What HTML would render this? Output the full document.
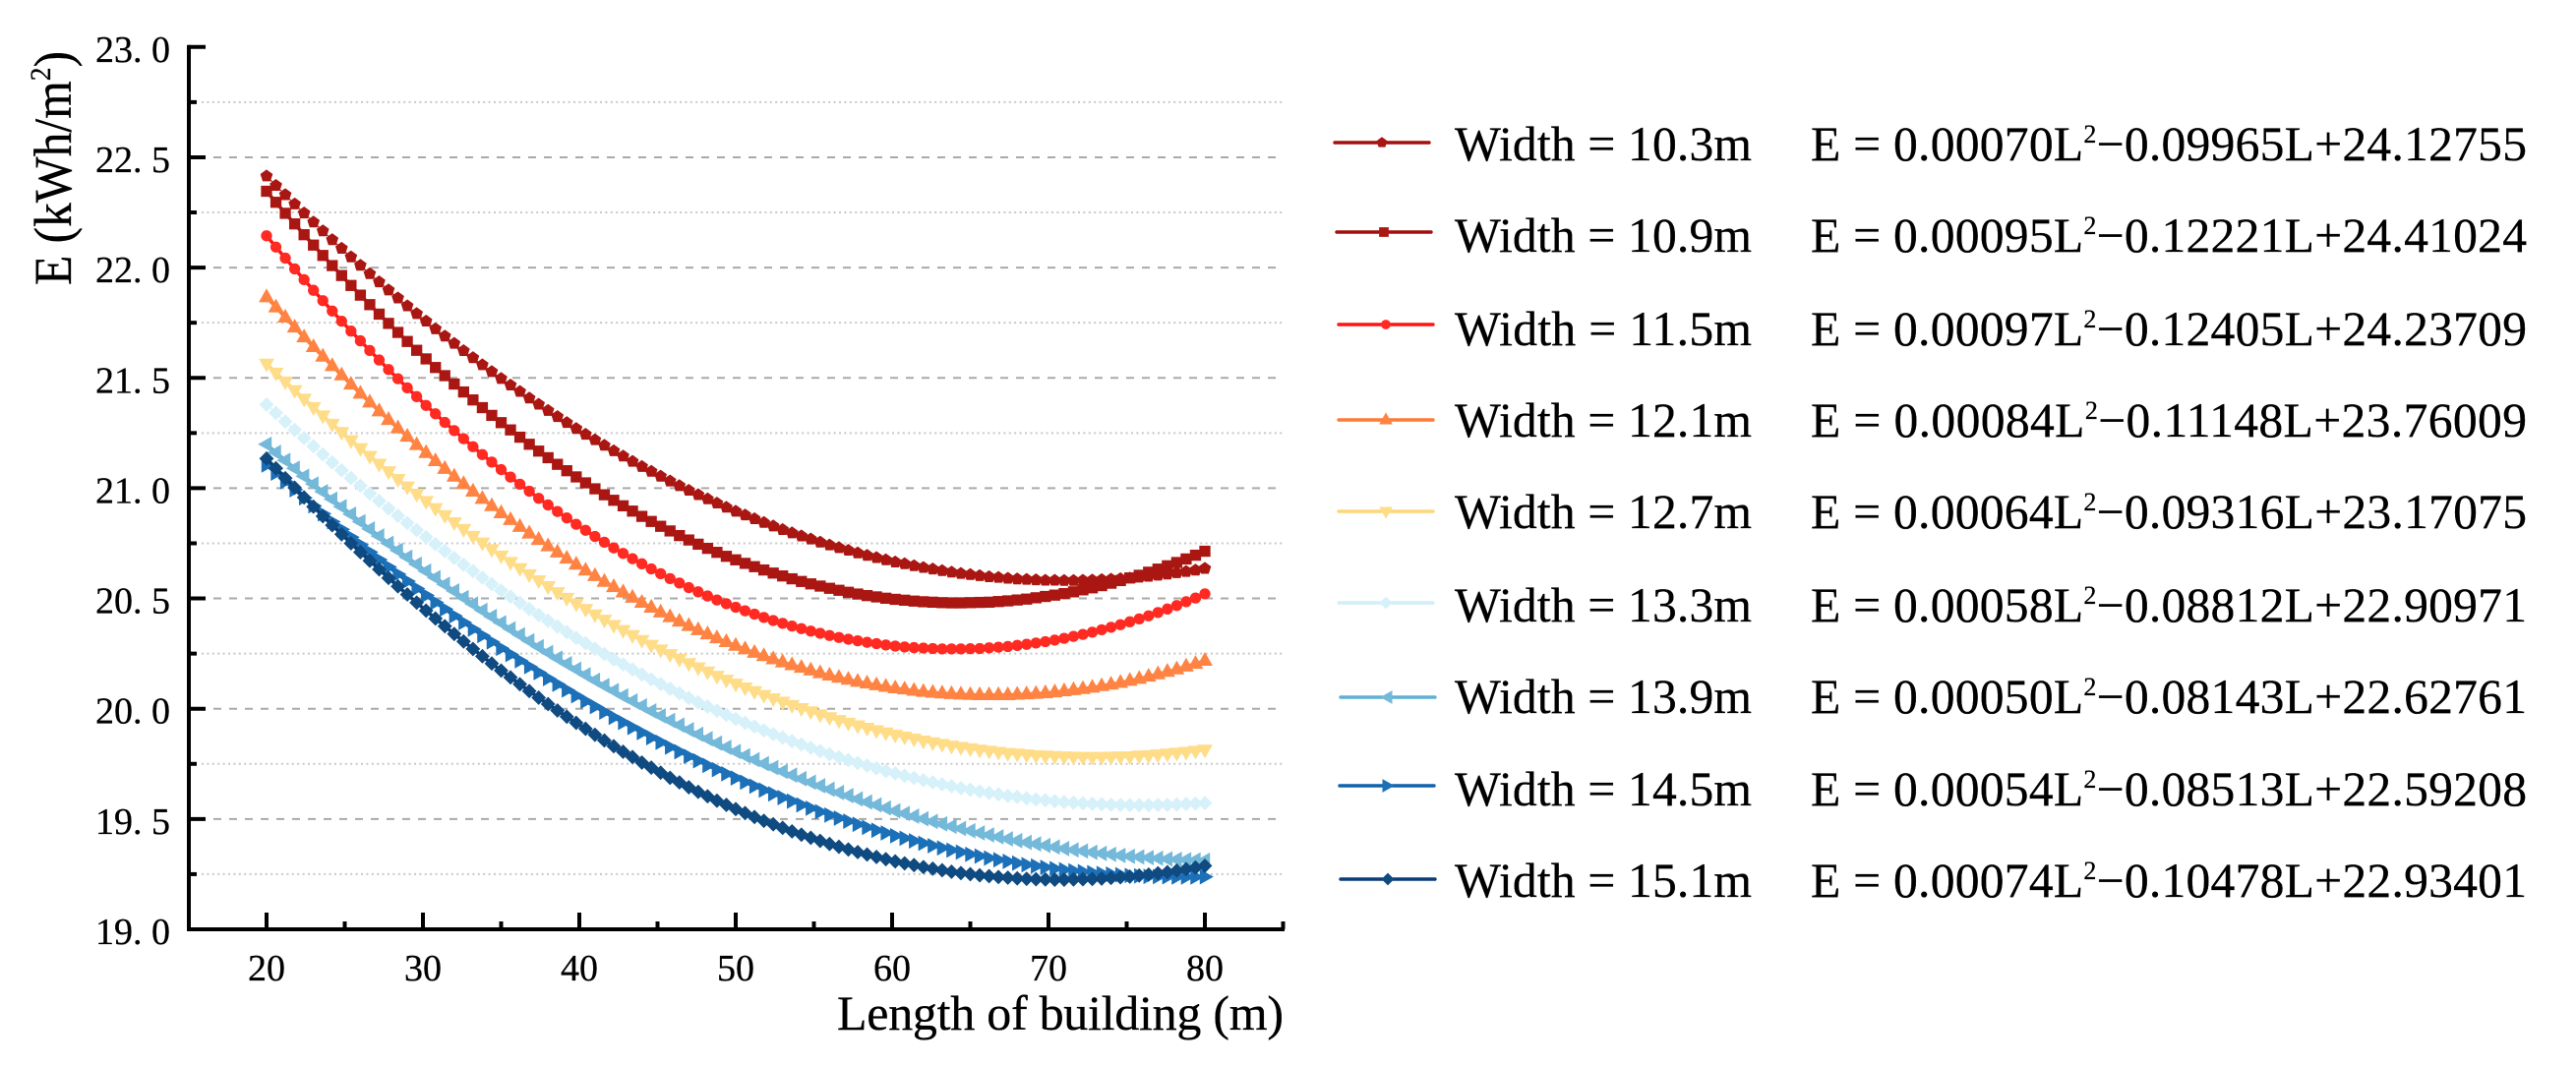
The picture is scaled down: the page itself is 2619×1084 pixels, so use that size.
<!DOCTYPE html>
<html lang="en">
<head>
<meta charset="utf-8">
<title>Energy vs building length</title>
<style>
html,body{margin:0;padding:0;background:#fff;width:2619px;height:1084px;overflow:hidden}
svg{display:block}
text{font-family:"Liberation Serif","Noto Serif CJK SC",serif;fill:#000;stroke:#000;stroke-width:.3px}
</style>
</head>
<body>
<svg id="chart" xmlns="http://www.w3.org/2000/svg" width="2619" height="1084" viewBox="0 0 2619 1084"></svg>
<script>
const lengths = [20,20.6,21.2,21.8,22.4,23,23.6,24.2,24.8,25.4,26,26.6,27.2,27.8,28.4,29,29.6,30.2,30.8,31.4,32,32.6,33.2,33.8,34.4,35,35.6,36.2,36.8,37.4,38,38.6,39.2,39.8,40.4,41,41.6,42.2,42.8,43.4,44,44.6,45.2,45.8,46.4,47,47.6,48.2,48.8,49.4,50,50.6,51.2,51.8,52.4,53,53.6,54.2,54.8,55.4,56,56.6,57.2,57.8,58.4,59,59.6,60.2,60.8,61.4,62,62.6,63.2,63.8,64.4,65,65.6,66.2,66.8,67.4,68,68.6,69.2,69.8,70.4,71,71.6,72.2,72.8,73.4,74,74.6,75.2,75.8,76.4,77,77.6,78.2,78.8,79.4,80];
const width103 = [22.415,22.372,22.330,22.288,22.247,22.206,22.166,22.126,22.087,22.048,22.010,21.972,21.935,21.898,21.862,21.826,21.791,21.757,21.722,21.689,21.656,21.623,21.591,21.559,21.528,21.497,21.467,21.438,21.408,21.380,21.352,21.324,21.297,21.270,21.244,21.219,21.194,21.169,21.145,21.121,21.098,21.076,21.054,21.032,21.011,20.990,20.970,20.951,20.932,20.913,20.895,20.878,20.861,20.844,20.828,20.812,20.797,20.783,20.769,20.755,20.742,20.730,20.718,20.706,20.695,20.685,20.675,20.665,20.657,20.648,20.640,20.633,20.626,20.619,20.613,20.608,20.603,20.598,20.595,20.591,20.588,20.586,20.584,20.582,20.582,20.581,20.581,20.582,20.583,20.585,20.587,20.589,20.592,20.596,20.600,20.605,20.610,20.616,20.622,20.628,20.636];
const width109 = [22.346,22.296,22.246,22.198,22.149,22.102,22.055,22.009,21.964,21.919,21.875,21.832,21.789,21.747,21.706,21.665,21.625,21.586,21.547,21.510,21.472,21.436,21.400,21.365,21.330,21.297,21.264,21.231,21.199,21.168,21.138,21.108,21.079,21.051,21.024,20.997,20.970,20.945,20.920,20.896,20.872,20.849,20.827,20.806,20.785,20.765,20.746,20.727,20.709,20.691,20.675,20.659,20.644,20.629,20.615,20.602,20.589,20.577,20.566,20.556,20.546,20.537,20.528,20.520,20.513,20.507,20.501,20.496,20.492,20.488,20.485,20.483,20.481,20.480,20.480,20.481,20.482,20.483,20.486,20.489,20.493,20.497,20.503,20.509,20.515,20.522,20.530,20.539,20.548,20.558,20.569,20.581,20.593,20.605,20.619,20.633,20.648,20.663,20.679,20.696,20.714];
const width115 = [22.144,22.093,22.043,21.994,21.945,21.897,21.850,21.803,21.757,21.712,21.668,21.624,21.581,21.538,21.496,21.455,21.415,21.375,21.337,21.298,21.261,21.224,21.188,21.152,21.118,21.084,21.050,21.018,20.986,20.954,20.924,20.894,20.865,20.836,20.809,20.781,20.755,20.729,20.704,20.680,20.657,20.634,20.612,20.590,20.570,20.549,20.530,20.511,20.493,20.476,20.460,20.444,20.429,20.414,20.400,20.387,20.375,20.363,20.352,20.342,20.332,20.323,20.315,20.308,20.301,20.295,20.289,20.284,20.280,20.277,20.275,20.273,20.271,20.271,20.271,20.272,20.273,20.276,20.279,20.282,20.287,20.292,20.298,20.304,20.311,20.319,20.328,20.337,20.347,20.358,20.369,20.381,20.394,20.407,20.421,20.436,20.452,20.468,20.485,20.502,20.521];
const width121 = [21.866,21.820,21.774,21.729,21.684,21.640,21.597,21.554,21.512,21.470,21.429,21.389,21.349,21.310,21.272,21.234,21.196,21.160,21.123,21.088,21.053,21.019,20.985,20.952,20.919,20.887,20.856,20.825,20.795,20.766,20.737,20.709,20.681,20.654,20.627,20.602,20.576,20.552,20.528,20.504,20.481,20.459,20.437,20.416,20.396,20.376,20.357,20.338,20.320,20.303,20.286,20.270,20.254,20.239,20.225,20.211,20.198,20.186,20.174,20.162,20.151,20.141,20.132,20.123,20.115,20.107,20.100,20.093,20.088,20.082,20.077,20.073,20.070,20.067,20.065,20.063,20.062,20.062,20.062,20.062,20.064,20.066,20.068,20.071,20.075,20.080,20.085,20.090,20.096,20.103,20.110,20.118,20.127,20.136,20.146,20.157,20.168,20.179,20.192,20.204,20.218];
const width127 = [21.564,21.523,21.483,21.444,21.405,21.367,21.329,21.291,21.254,21.217,21.181,21.146,21.110,21.076,21.041,21.007,20.974,20.941,20.909,20.877,20.845,20.814,20.783,20.753,20.723,20.694,20.665,20.637,20.609,20.582,20.555,20.528,20.502,20.477,20.452,20.427,20.403,20.379,20.356,20.333,20.311,20.289,20.268,20.247,20.226,20.206,20.187,20.168,20.149,20.131,20.113,20.096,20.079,20.062,20.047,20.031,20.016,20.002,19.988,19.974,19.961,19.948,19.936,19.924,19.913,19.902,19.892,19.882,19.873,19.864,19.855,19.847,19.840,19.832,19.826,19.820,19.814,19.809,19.804,19.799,19.796,19.792,19.789,19.787,19.785,19.783,19.782,19.781,19.781,19.781,19.782,19.783,19.784,19.787,19.789,19.792,19.796,19.800,19.804,19.809,19.814];
const width133 = [21.379,21.341,21.302,21.264,21.227,21.190,21.153,21.117,21.081,21.046,21.011,20.976,20.942,20.908,20.875,20.842,20.810,20.778,20.746,20.715,20.684,20.653,20.624,20.594,20.565,20.536,20.508,20.480,20.452,20.425,20.399,20.373,20.347,20.321,20.297,20.272,20.248,20.224,20.201,20.178,20.155,20.133,20.112,20.091,20.070,20.049,20.029,20.010,19.991,19.972,19.954,19.936,19.919,19.902,19.885,19.869,19.853,19.838,19.823,19.808,19.794,19.780,19.767,19.754,19.742,19.730,19.718,19.707,19.696,19.686,19.676,19.666,19.657,19.649,19.640,19.633,19.625,19.618,19.612,19.605,19.600,19.594,19.589,19.585,19.581,19.577,19.574,19.571,19.569,19.567,19.565,19.564,19.563,19.563,19.563,19.564,19.564,19.566,19.568,19.570,19.572];
const width139 = [21.199,21.162,21.126,21.090,21.054,21.019,20.984,20.950,20.916,20.882,20.848,20.815,20.783,20.750,20.718,20.687,20.655,20.624,20.594,20.564,20.534,20.504,20.475,20.446,20.418,20.390,20.362,20.335,20.308,20.281,20.255,20.229,20.204,20.179,20.154,20.129,20.105,20.082,20.058,20.035,20.013,19.990,19.968,19.947,19.926,19.905,19.884,19.864,19.844,19.825,19.806,19.787,19.769,19.751,19.733,19.716,19.699,19.683,19.667,19.651,19.635,19.620,19.606,19.591,19.577,19.564,19.550,19.537,19.525,19.513,19.501,19.489,19.478,19.467,19.457,19.447,19.437,19.428,19.419,19.410,19.402,19.394,19.387,19.380,19.373,19.366,19.360,19.355,19.349,19.344,19.340,19.335,19.331,19.328,19.325,19.322,19.319,19.317,19.315,19.314,19.313];
const width145 = [21.105,21.068,21.030,20.993,20.956,20.920,20.884,20.848,20.813,20.778,20.744,20.710,20.676,20.643,20.610,20.578,20.545,20.514,20.482,20.452,20.421,20.391,20.361,20.332,20.303,20.274,20.246,20.218,20.191,20.164,20.137,20.111,20.085,20.059,20.034,20.010,19.985,19.961,19.938,19.915,19.892,19.869,19.848,19.826,19.805,19.784,19.764,19.743,19.724,19.705,19.686,19.667,19.649,19.631,19.614,19.597,19.581,19.564,19.549,19.533,19.518,19.504,19.490,19.476,19.462,19.449,19.437,19.424,19.413,19.401,19.390,19.379,19.369,19.359,19.350,19.340,19.332,19.323,19.315,19.308,19.300,19.293,19.287,19.281,19.275,19.270,19.265,19.261,19.257,19.253,19.250,19.247,19.244,19.242,19.240,19.239,19.238,19.237,19.237,19.237,19.238];
const width151 = [21.134,21.090,21.045,21.002,20.958,20.916,20.873,20.832,20.791,20.750,20.710,20.671,20.632,20.593,20.555,20.518,20.481,20.445,20.409,20.374,20.339,20.305,20.271,20.238,20.205,20.173,20.142,20.111,20.080,20.050,20.021,19.992,19.964,19.936,19.909,19.882,19.856,19.830,19.805,19.781,19.756,19.733,19.710,19.687,19.666,19.644,19.623,19.603,19.583,19.564,19.545,19.527,19.509,19.492,19.476,19.460,19.444,19.429,19.415,19.401,19.387,19.374,19.362,19.350,19.339,19.328,19.318,19.308,19.299,19.291,19.282,19.275,19.268,19.261,19.255,19.250,19.245,19.241,19.237,19.234,19.231,19.229,19.227,19.226,19.225,19.225,19.226,19.227,19.228,19.230,19.233,19.236,19.239,19.244,19.248,19.254,19.259,19.266,19.273,19.280,19.288];
const seriesLabels = ["Width = 10.3m","Width = 10.9m","Width = 11.5m","Width = 12.1m","Width = 12.7m","Width = 13.3m","Width = 13.9m","Width = 14.5m","Width = 15.1m"];
const coefA = ["0.00070","0.00095","0.00097","0.00084","0.00064","0.00058","0.00050","0.00054","0.00074"];
const coefB = ["0.09965","0.12221","0.12405","0.11148","0.09316","0.08812","0.08143","0.08513","0.10478"];
const coefC = ["24.12755","24.41024","24.23709","23.76009","23.17075","22.90971","22.62761","22.59208","22.93401"];
const yMajorTicks = [19,19.5,20,20.5,21,21.5,22,22.5,23];
const yMinorTicks = [19.25,19.75,20.25,20.75,21.25,21.75,22.25,22.75];
const yTickLabels = ["19. 0","19. 5","20. 0","20. 5","21. 0","21. 5","22. 0","22. 5","23. 0"];
const xMajorTicks = [20,30,40,50,60,70,80];
const xMinorTicks = [25,35,45,55,65,75,85];

const allValues = [width103,width109,width115,width121,width127,width133,width139,width145,width151];
const lineColors = ["#a30f0f","#a30f0f","#ff1414","#ff7a35","#ffd677","#d0eff8","#5fb0d8","#0f62ae","#0c3c78"];
const markerColors = ["#aa1713","#aa1713","#ff2a22","#ff8444","#ffdc88","#d6f1f9","#74b9da","#1c70b8","#0f4a80"];
const plotLineWidths = [1,3.5,3.5,3.5,3.5,1,3.5,3.5,3.5];
const markerShapes = ["pentagon","square","circle","up","down","diamond","left","right","diamond"];
const legendLineY = [145,236,330,427,520,613,709,799,894];
const legendLineX = [1357,1359,1361,1361,1361,1361,1363,1362,1363];
const legendTextY = [163,256,351,444,537,632,725,819,912];

const NS = "http://www.w3.org/2000/svg";
const svg = document.getElementById("chart");
function xPx(v){ return 191.5 + (v - 15) * 15.9; }
function yPx(v){ return 945 - (v - 19) * 224.3; }
function mk(tag, attrs, parent, text){
  const e = document.createElementNS(NS, tag);
  for (const k in attrs) e.setAttribute(k, attrs[k]);
  if (text !== undefined) e.textContent = text;
  (parent || svg).appendChild(e);
  return e;
}
function shapePoints(s, x, y, r){
  let p;
  if (s === "pentagon") p = [[0,-1],[.95,-.31],[.59,.81],[-.59,.81],[-.95,-.31]];
  else if (s === "up") p = [[0,-1],[.9,.6],[-.9,.6]];
  else if (s === "down") p = [[-.9,-.6],[.9,-.6],[0,1]];
  else if (s === "left") p = [[-1,0],[.6,-.9],[.6,.9]];
  else if (s === "right") p = [[1,0],[-.6,.9],[-.6,-.9]];
  else if (s === "diamond") p = [[0,-1],[1,0],[0,1],[-1,0]];
  return p.map(q => (x + q[0]*r).toFixed(2) + "," + (y + q[1]*r).toFixed(2)).join(" ");
}
function drawMarker(parent, s, x, y, scale, color, edge){
  const st = {fill:color, stroke:edge, "stroke-width":1};
  if (s === "circle") return mk("circle", Object.assign({cx:x.toFixed(2), cy:y.toFixed(2), r:4.6*scale}, st), parent);
  if (s === "square") return mk("rect", Object.assign({x:(x-4.6*scale).toFixed(2), y:(y-4.6*scale).toFixed(2), width:9.2*scale, height:9.2*scale}, st), parent);
  const radii = {pentagon:5.4, up:7, down:7, left:7, right:7, diamond:6};
  return mk("polygon", Object.assign({points:shapePoints(s, x, y, radii[s]*scale)}, st), parent);
}

/* grid */
const grid = mk("g", {});


yMajorTicks.slice(1, -1).forEach(function(v){
  const l = mk("line", {x1:209, x2:1304, y1:yPx(v), y2:yPx(v), stroke:"#aaaaaa", "stroke-width":2, "stroke-dasharray":"8 8", "stroke-dashoffset":"-8"}, grid);
  
  
});
yMinorTicks.forEach(function(v){
  const l = mk("line", {x1:205, x2:1304, y1:yPx(v), y2:yPx(v), stroke:"#c8c8c8", "stroke-width":2, "stroke-dasharray":"2 3.4"}, grid);
  
  
});

/* series */
allValues.forEach(function(vals, i){
  const g = mk("g", {});
  
  
  const d = vals.map((v, k) => xPx(lengths[k]).toFixed(2) + "," + yPx(v).toFixed(2)).join(" ");
  const pl = mk("polyline", {points:d, fill:"none", stroke:lineColors[i], "stroke-width":plotLineWidths[i]}, g);
  
  
  vals.forEach(function(v, k){
    const m = drawMarker(g, markerShapes[i], xPx(lengths[k]), yPx(v), 1.12, markerColors[i], markerColors[i]);
    
    
  });
});

/* axes */
const axes = mk("g", {stroke:"#000", "stroke-width":4, fill:"none"});


const yAxis = mk("line", {x1:192, x2:192, y1:yPx(23)-2, y2:947}, axes);


const xAxis = mk("line", {x1:190, x2:1306, y1:945, y2:945}, axes);


yMajorTicks.forEach(function(v, i){
  const t = mk("line", {x1:192, x2:209, y1:yPx(v), y2:yPx(v)}, axes);
  
  
  const lb = mk("text", {x:173, y:yPx(v)+15, "text-anchor":"end", "font-size":38, "xml:space":"preserve", style:"white-space:pre"}, svg, yTickLabels[i]);
  
  
});
yMinorTicks.forEach(function(v){
  const t = mk("line", {x1:192, x2:200, y1:yPx(v), y2:yPx(v)}, axes);
  
  
});
xMajorTicks.forEach(function(v){
  const t = mk("line", {x1:xPx(v), x2:xPx(v), y1:945, y2:928}, axes);
  
  
  const lb = mk("text", {x:xPx(v), y:997, "text-anchor":"middle", "font-size":38}, svg, String(v));
  
  
});
xMinorTicks.forEach(function(v){
  const t = mk("line", {x1:xPx(v), x2:xPx(v), y1:945, y2:937}, axes);
  
  
});

/* axis titles */
const xTitle = mk("text", {x:851, y:1047, "font-size":50, textLength:454, lengthAdjust:"spacing"}, svg, "Length of building (m)");


const yTitle = mk("text", {transform:"translate(72,290) rotate(-90)", "font-size":54, textLength:238, lengthAdjust:"spacingAndGlyphs"});


mk("tspan", {}, yTitle, "E (kWh/m");
mk("tspan", {dy:-21, "font-size":30}, yTitle, "2");
mk("tspan", {dy:21}, yTitle, ")");

/* legend */
seriesLabels.forEach(function(label, i){
  const g = mk("g", {});
  
  
  const x0 = legendLineX[i], yl = legendLineY[i];
  const ln = mk("line", {x1:x0, x2:x0+96, y1:yl, y2:yl, stroke:lineColors[i], "stroke-width":3.4, "stroke-linecap":"round"}, g);
  
  
  const mr = drawMarker(g, markerShapes[i], x0+48, yl, 0.95, markerColors[i], markerColors[i]);
  
  
  const t = mk("text", {x:1479, y:legendTextY[i], "font-size":49.6, textLength:302, lengthAdjust:"spacing"}, g, label);
  
  
  const eq = mk("text", {x:1841, y:legendTextY[i], "font-size":49.6, textLength:728, lengthAdjust:"spacing"}, g);
  
  
  mk("tspan", {}, eq, "E = " + coefA[i] + "L");
  mk("tspan", {dy:-18, "font-size":26}, eq, "2");
  mk("tspan", {dy:18}, eq, "\u2212" + coefB[i] + "L+" + coefC[i]);
});
</script>
</body>
</html>
